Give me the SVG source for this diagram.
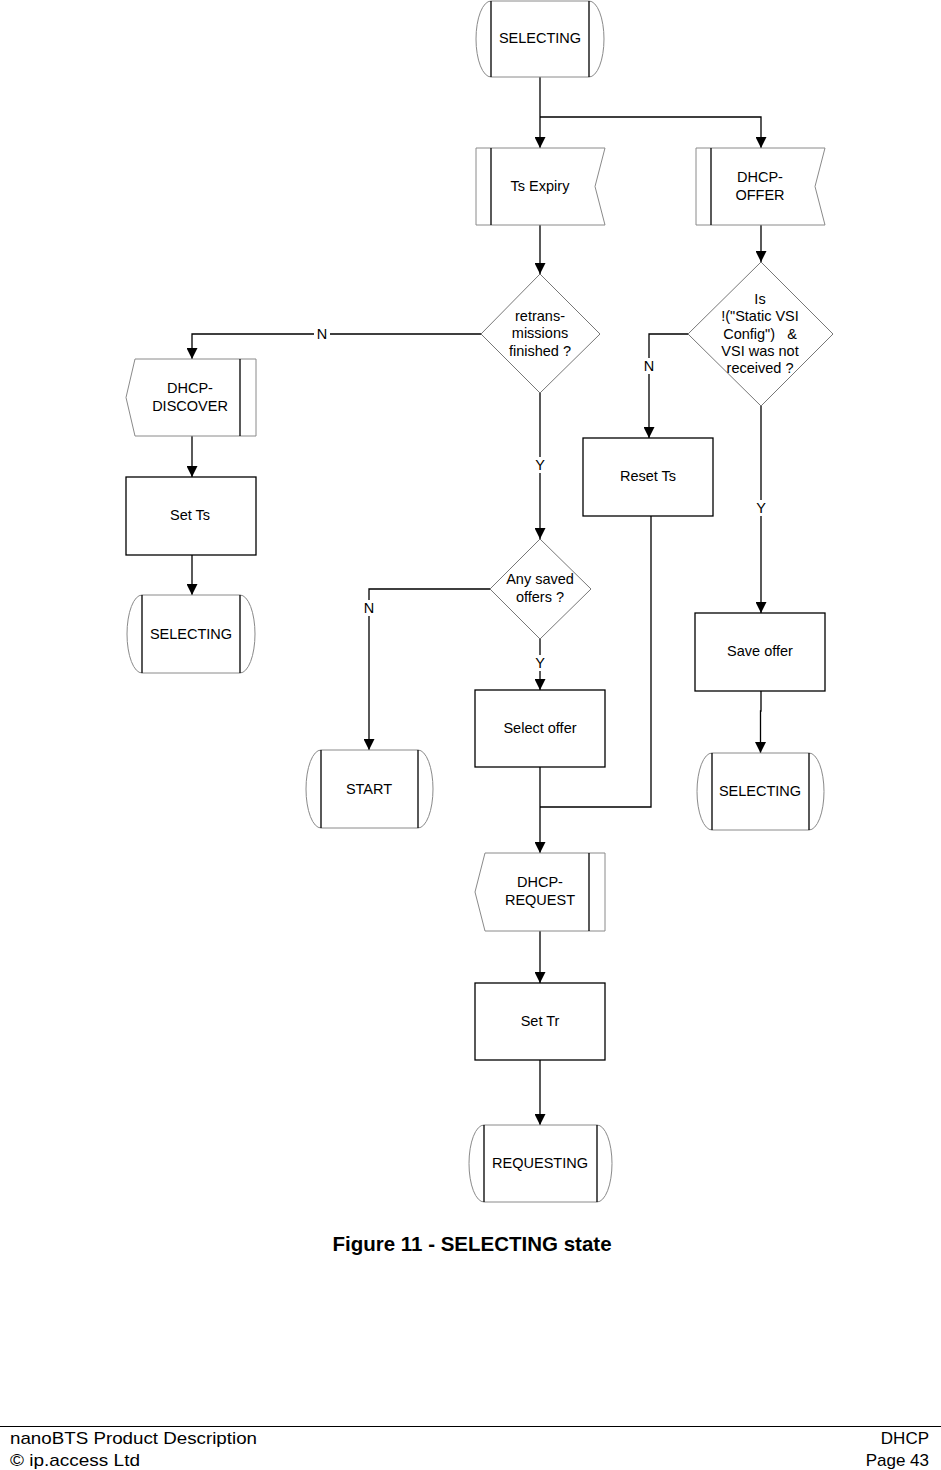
<svg xmlns="http://www.w3.org/2000/svg" width="941" height="1470" viewBox="0 0 941 1470">
<defs>
<marker id="ah" viewBox="0 0 10 10" refX="10" refY="5" markerWidth="11" markerHeight="11" markerUnits="userSpaceOnUse" orient="auto">
<path d="M0,0 L10,5 L0,10 Z" fill="#000"/>
</marker>
<style>
.t{font-family:"Liberation Sans",Arial,sans-serif;font-size:14.5px;fill:#000;text-anchor:middle}
.outer{fill:#fff;stroke:#8a8a8a;stroke-width:1}
.inner{stroke:#000;stroke-width:1.3;fill:none}
.proc{fill:#fff;stroke:#000;stroke-width:1.3}
.dia{fill:#fff;stroke:#777;stroke-width:1}
.c{fill:none;stroke:#000;stroke-width:1.3}
.lbl{fill:#fff;stroke:none}
</style>
</defs>
<rect width="941" height="1470" fill="#fff"/>

<g id="connectors">
<path class="c" d="M540,77 V148" marker-end="url(#ah)"/>
<path class="c" d="M540,117 H761 V148" marker-end="url(#ah)"/>
<path class="c" d="M540,225 V274" marker-end="url(#ah)"/>
<path class="c" d="M761,225 V262" marker-end="url(#ah)"/>
<path class="c" d="M481,334 H192 V359" marker-end="url(#ah)"/>
<path class="c" d="M192,436 V477" marker-end="url(#ah)"/>
<path class="c" d="M192,555 V595" marker-end="url(#ah)"/>
<path class="c" d="M540,393 V539" marker-end="url(#ah)"/>
<path class="c" d="M490,589 H369 V750" marker-end="url(#ah)"/>
<path class="c" d="M540,639 V690" marker-end="url(#ah)"/>
<path class="c" d="M688,334 H649 V438" marker-end="url(#ah)"/>
<path class="c" d="M761,406 V613" marker-end="url(#ah)"/>
<path class="c" d="M761,691 V711 H760.5 V753" marker-end="url(#ah)"/>
<path class="c" d="M540,767 V853" marker-end="url(#ah)"/>
<path class="c" d="M651,516 V807 H540"/>
<path class="c" d="M540,931 V983" marker-end="url(#ah)"/>
<path class="c" d="M540,1060 V1125" marker-end="url(#ah)"/>
<rect class="lbl" x="314" y="326" width="16" height="16"/>
<text class="t" x="322" y="339">N</text>
<rect class="lbl" x="532" y="457" width="16" height="16"/>
<text class="t" x="540" y="470">Y</text>
<rect class="lbl" x="361" y="600" width="16" height="16"/>
<text class="t" x="369" y="613">N</text>
<rect class="lbl" x="532" y="655" width="16" height="16"/>
<text class="t" x="540" y="668">Y</text>
<rect class="lbl" x="641" y="358" width="16" height="16"/>
<text class="t" x="649" y="371">N</text>
<rect class="lbl" x="753" y="500" width="16" height="16"/>
<text class="t" x="761" y="513">Y</text>
</g>

<g id="selecting-top">
<path class="outer" d="M491,1 H589 A15,38 0 0 1 589,77 H491 A15,38 0 0 1 491,1 Z"/>
<path class="inner" d="M491,1 V77 M589,1 V77"/>
<text class="t" x="540" y="43">SELECTING</text>
</g>

<g id="ts-expiry">
<path class="outer" d="M476,148 H605 L595,186.5 L605,225 H476 Z"/>
<path class="inner" d="M491,148 V225"/>
<text class="t" x="540" y="191">Ts Expiry</text>
</g>

<g id="dhcp-offer">
<path class="outer" d="M696,148 H825 L815,186.5 L825,225 H696 Z"/>
<path class="inner" d="M711,148 V225"/>
<text class="t" x="760" y="182">DHCP-</text>
<text class="t" x="760" y="200">OFFER</text>
</g>

<g id="retrans">
<path class="dia" d="M540,274 L600,334 L540,393 L481,334 Z"/>
<text class="t" x="540" y="321">retrans-</text>
<text class="t" x="540" y="338">missions</text>
<text class="t" x="540" y="356">finished ?</text>
</g>

<g id="is-static">
<path class="dia" d="M761,262 L833,334 L761,406 L688,334 Z"/>
<text class="t" x="760" y="304">Is</text>
<text class="t" x="760" y="321">!("Static VSI</text>
<text class="t" x="760" y="339" style="white-space:pre">Config")   &amp;</text>
<text class="t" x="760" y="356">VSI was not</text>
<text class="t" x="760" y="373">received ?</text>
</g>

<g id="dhcp-discover">
<path class="outer" d="M135,359 H256 V436 H135 L126,397.5 Z"/>
<path class="inner" d="M240,359 V436"/>
<text class="t" x="190" y="393">DHCP-</text>
<text class="t" x="190" y="411">DISCOVER</text>
</g>

<g id="set-ts">
<rect class="proc" x="126" y="477" width="130" height="78"/>
<text class="t" x="190" y="520">Set Ts</text>
</g>

<g id="selecting-left">
<path class="outer" d="M142,595 H240 A15,39 0 0 1 240,673 H142 A15,39 0 0 1 142,595 Z"/>
<path class="inner" d="M142,595 V673 M240,595 V673"/>
<text class="t" x="191" y="639">SELECTING</text>
</g>

<g id="reset-ts">
<rect class="proc" x="583" y="438" width="130" height="78"/>
<text class="t" x="648" y="481">Reset Ts</text>
</g>

<g id="any-saved">
<path class="dia" d="M540,539 L591,589 L540,639 L490,589 Z"/>
<text class="t" x="540" y="584">Any saved</text>
<text class="t" x="540" y="602">offers ?</text>
</g>

<g id="save-offer">
<rect class="proc" x="695" y="613" width="130" height="78"/>
<text class="t" x="760" y="656">Save offer</text>
</g>

<g id="select-offer">
<rect class="proc" x="475" y="690" width="130" height="77"/>
<text class="t" x="540" y="733">Select offer</text>
</g>

<g id="start">
<path class="outer" d="M321,750 H418 A15,39 0 0 1 418,828 H321 A15,39 0 0 1 321,750 Z"/>
<path class="inner" d="M321,750 V828 M418,750 V828"/>
<text class="t" x="369" y="794">START</text>
</g>

<g id="selecting-right">
<path class="outer" d="M712,753 H809 A15,38.5 0 0 1 809,830 H712 A15,38.5 0 0 1 712,753 Z"/>
<path class="inner" d="M712,753 V830 M809,753 V830"/>
<text class="t" x="760" y="796">SELECTING</text>
</g>

<g id="dhcp-request">
<path class="outer" d="M485,853 H605 V931 H485 L475,892 Z"/>
<path class="inner" d="M589,853 V931"/>
<text class="t" x="540" y="887">DHCP-</text>
<text class="t" x="540" y="905">REQUEST</text>
</g>

<g id="set-tr">
<rect class="proc" x="475" y="983" width="130" height="77"/>
<text class="t" x="540" y="1026">Set Tr</text>
</g>

<g id="requesting">
<path class="outer" d="M484,1125 H597 A15,38.5 0 0 1 597,1202 H484 A15,38.5 0 0 1 484,1125 Z"/>
<path class="inner" d="M484,1125 V1202 M597,1125 V1202"/>
<text class="t" x="540" y="1168">REQUESTING</text>
</g>

<text x="472" y="1251" style="font-family:'Liberation Sans',Arial,sans-serif;font-size:20.5px;font-weight:bold;text-anchor:middle">Figure 11 - SELECTING state</text>

<g id="footer">
<line x1="0" y1="1426.5" x2="941" y2="1426.5" stroke="#000" stroke-width="1"/>
<text x="10" y="1444" style="font-family:'Liberation Sans',Arial,sans-serif;font-size:17px" textLength="247" lengthAdjust="spacingAndGlyphs">nanoBTS Product Description</text>
<text x="10" y="1466" style="font-family:'Liberation Sans',Arial,sans-serif;font-size:17px" textLength="130" lengthAdjust="spacingAndGlyphs">© ip.access Ltd</text>
<text x="929" y="1444" style="font-family:'Liberation Sans',Arial,sans-serif;font-size:17px;text-anchor:end">DHCP</text>
<text x="929" y="1466" style="font-family:'Liberation Sans',Arial,sans-serif;font-size:17px;text-anchor:end">Page 43</text>
</g>
</svg>
